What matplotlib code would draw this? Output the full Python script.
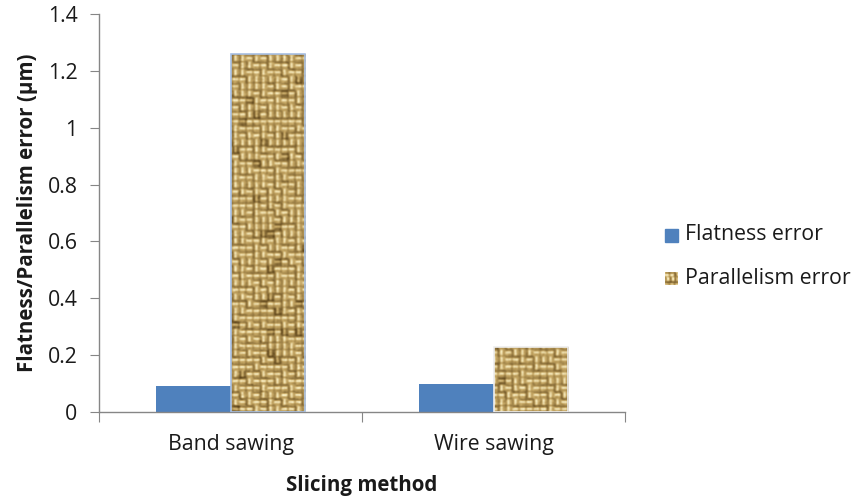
import numpy as np
import matplotlib
matplotlib.use("Agg")
import matplotlib.pyplot as plt
from matplotlib.patches import Rectangle

categories = ["Band sawing", "Wire sawing"]
flatness_error = [0.09, 0.10]
parallelism_error = [1.26, 0.23]
series_names = ["Flatness error", "Parallelism error"]
y_ticks = [0, 0.2, 0.4, 0.6, 0.8, 1, 1.2, 1.4]
y_tick_labels = ["0", "0.2", "0.4", "0.6", "0.8", "1", "1.2", "1.4"]

FONT = ["Open Sans", "DejaVu Sans"]
plt.rcParams["font.family"] = FONT
FS = 15.3

BLUE = "#4f81bd"
AXIS_GRAY = "#868686"
TEXT = "#1a1a1a"


def burlap_texture(h, w, cell=7, seed=3):
    """Woven sack-cloth texture as an RGB float array."""
    rng = np.random.default_rng(seed)
    ny, nx = h // cell + 2, w // cell + 2
    orient = rng.integers(0, 2, size=(ny, nx))
    yy, xx = np.mgrid[0:h, 0:w]
    cy, cx = yy // cell, xx // cell
    ly, lx = yy % cell, xx % cell
    o = orient[cy, cx]
    # light strand across each cell, horizontal or vertical
    strand_h = (ly >= 2) & (ly <= 3) & (lx < cell - 1)
    strand_v = (lx >= 2) & (lx <= 3) & (ly < cell - 1)
    strand = np.where(o == 0, strand_h, strand_v).astype(float)
    gap_h = (lx == cell - 1) | (ly == 0)
    gap_v = (ly == cell - 1) | (lx == 0)
    gap = np.where(o == 0, gap_h, gap_v).astype(float)
    val = 0.5 + 0.5 * strand - 0.3 * gap
    val += rng.normal(0, 0.1, size=(h, w))
    # darker blotches
    blot = rng.random((ny, nx)) < 0.05
    val -= 0.3 * blot[cy, cx]
    # soften
    k = np.array([1, 2, 1], float) / 4
    val = (np.roll(val, 1, 0) * k[0] + val * k[1] + np.roll(val, -1, 0) * k[2])
    val = (np.roll(val, 1, 1) * k[0] + val * k[1] + np.roll(val, -1, 1) * k[2])
    val = np.clip(val, 0, 1)
    dark = np.array([0x5e, 0x45, 0x1a]) / 255
    mid = np.array([0xc4, 0xa5, 0x62]) / 255
    light = np.array([0xfb, 0xf0, 0xc4]) / 255
    v = val[..., None]
    lo = dark + (mid - dark) * np.clip(v / 0.55, 0, 1)
    return np.where(v < 0.55, lo, mid + (light - mid) * np.clip((v - 0.55) / 0.45, 0, 1))


W, H, DPI = 857, 498, 100
fig = plt.figure(figsize=(W / DPI, H / DPI), dpi=DPI)
ax = fig.add_axes([99 / W, 1 - 412 / H, (625 - 99) / W, (412 - 14) / H])

x = np.arange(len(categories))
bw = 0.285
ax.bar(x - bw / 2, flatness_error, width=bw, color=BLUE, edgecolor="none", zorder=2)
par_bars = ax.bar(x + bw / 2, parallelism_error, width=bw, color="none",
                  edgecolor=["#a7bfe3", "#eeeeee"], linewidth=1.2, zorder=3)

tex = burlap_texture(398, 526)
for bar in par_bars:
    im = ax.imshow(tex, extent=(-0.5, 1.5, 0, 1.4), aspect="auto",
                   interpolation="bilinear", zorder=2)
    im.set_clip_path(bar)
ax.set_xlim(-0.5, 1.5)
ax.set_ylim(0, 1.4)

for s in ["top", "right"]:
    ax.spines[s].set_visible(False)
for s in ["left", "bottom"]:
    ax.spines[s].set_color(AXIS_GRAY)
    ax.spines[s].set_linewidth(1.0)

ax.set_yticks(y_ticks)
ax.set_yticklabels(y_tick_labels)
ax.set_xticks([-0.5, 0.5, 1.5])
ax.set_xticklabels([])
ax.set_xticks(x, minor=True)
ax.set_xticklabels(categories, minor=True)
ax.tick_params(axis="x", which="major", direction="out", length=7, color=AXIS_GRAY)
ax.tick_params(axis="x", which="minor", length=0, pad=16, labelsize=FS, labelcolor=TEXT)
ax.tick_params(axis="y", direction="out", length=6.5, color=AXIS_GRAY, pad=9,
               labelsize=FS, labelcolor=TEXT)

ax.set_ylabel("Flatness/Parallelism error (µm)", fontsize=14.8, fontweight="bold",
              labelpad=7, color=TEXT)
ax.set_xlabel("Slicing method", fontsize=14.8, fontweight="bold", labelpad=14, color=TEXT)

# legend drawn by hand so the textured swatch can use the same cloth
sw = 13
fig.patches.append(Rectangle((665 / W, 1 - 242 / H), sw / W, sw / H,
                             transform=fig.transFigure, color=BLUE, figure=fig))
lax = fig.add_axes([665 / W, 1 - 285 / H, sw / W, sw / H])
lax.imshow(burlap_texture(sw, sw, cell=5, seed=11), interpolation="bilinear", aspect="auto")
lax.axis("off")
fig.text(685 / W, 1 - 235 / H, series_names[0], fontsize=FS, va="center", color=TEXT)
fig.text(685 / W, 1 - 278 / H, series_names[1], fontsize=FS, va="center", color=TEXT)

fig.savefig("out.png", dpi=DPI)
